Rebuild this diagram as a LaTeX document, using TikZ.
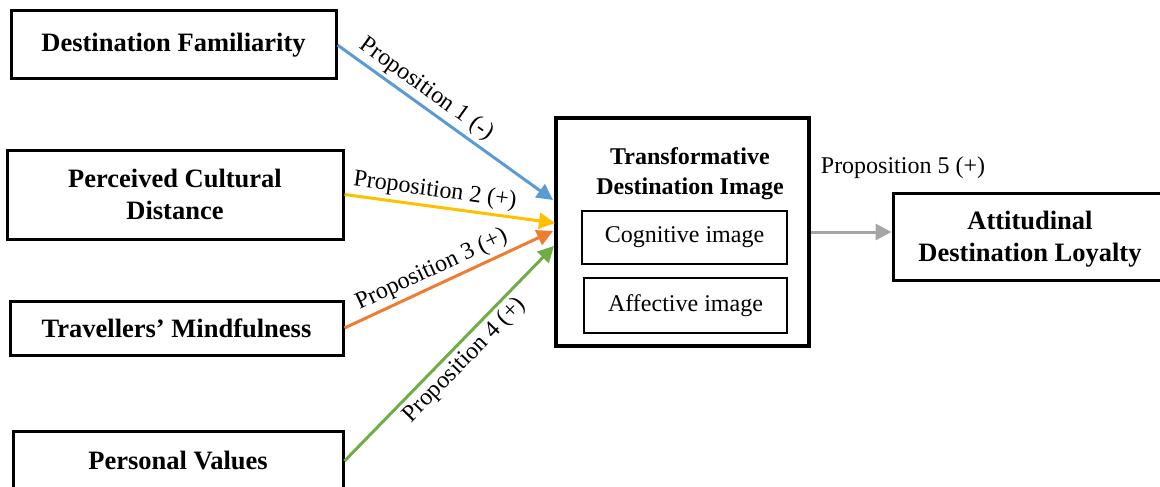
\documentclass[tikz,border=0pt]{standalone}
\usepackage{fontspec}
\setmainfont{Liberation Serif}
\usetikzlibrary{arrows.meta}
\definecolor{pblue}{HTML}{5B9BD5}
\definecolor{pyellow}{HTML}{FFC000}
\definecolor{porange}{HTML}{ED7D31}
\definecolor{pgreen}{HTML}{70AD47}
\definecolor{pgray}{HTML}{A5A5A5}
\tikzset{
  outerbox/.style={draw=black, line width=3pt, rectangle, inner sep=0pt, align=center,
    font=\fontsize{26.5}{32}\selectfont\bfseries},
  mainbox/.style={draw=black, line width=3.5pt, rectangle, inner sep=0pt},
  innerbox/.style={draw=black, line width=2.2pt, rectangle, inner sep=0pt,
    font=\fontsize{24}{28}\selectfont},
  titletext/.style={align=center, inner sep=0pt, font=\fontsize{24}{30}\selectfont\bfseries},
  proplabel/.style={font=\fontsize{24}{28}\selectfont, inner sep=3.5pt},
  proparrow/.style={line width=3pt, -{Triangle[length=16pt,width=16pt]}}
}
\begin{document}
\begin{tikzpicture}[x=1pt,y=-1pt]
\useasboundingbox (0,0) rectangle (1160,487);
\begin{scope}
\clip (0,0) rectangle (1160,487);
% left boxes
\node[outerbox, minimum width=325pt, minimum height=68pt] (b1) at (173.5,45) {Destination Familiarity};
\node[outerbox, minimum width=336pt, minimum height=89pt] (b2) at (175,194.5) {Perceived Cultural\\Distance};
\node[outerbox, minimum width=333pt, minimum height=54pt] (b3) at (176.5,328) {Travellers’ Mindfulness};
\node[outerbox, minimum width=330pt, minimum height=62pt, text depth=0pt] (b4) at (178,462) {};
\node[font=\fontsize{26.5}{32}\selectfont\bfseries, inner sep=0pt] (b4t) at (178,461) {Personal Values};
% central box
\node[mainbox, minimum width=253pt, minimum height=228pt] (c) at (682.5,232) {};
\node[titletext] (ct) at (690,174) {Transformative\\Destination Image};
\node[innerbox, minimum width=205pt, minimum height=53pt] (cog) at (684.5,237.5) {Cognitive image};
\node[innerbox, minimum width=203pt, minimum height=55pt] (aff) at (685.5,305.5) {Affective image};
% right box
\node[outerbox, minimum width=277pt, minimum height=87pt] (att) at (1031.5,236.5) {};
\node[align=center, inner sep=0pt, font=\fontsize{26.5}{32}\selectfont\bfseries] (attt) at (1030,239) {Attitudinal\\Destination Loyalty};
% arrow tips
\coordinate (t1) at (553,200);
\coordinate (t2) at (555,223);
\coordinate (t3) at (553,231);
\coordinate (t4) at (554,246);
% arrows
\draw[proparrow, pblue] (b1.east) -- node[proplabel, sloped, above, pos=0.37, text=black] {Proposition 1 (-)} (t1);
\draw[proparrow, pyellow] (b2.east) -- node[proplabel, sloped, above, pos=0.42, text=black] {Proposition 2 (+)} (t2);
\draw[proparrow, porange] (b3.east) -- node[proplabel, sloped, above, pos=0.45, text=black] {Proposition 3 (+)} (t3);
\draw[proparrow, pgreen] (b4.east |- b4t) -- node[proplabel, sloped, below, pos=0.52, text=black] {Proposition 4 (+)} (t4);
\draw[proparrow, pgray] (c.east) -- (c.east -| att.west);
\node[proplabel, inner sep=0pt] (p5) at (903,168) {Proposition 5 (+)};
\end{scope}
\end{tikzpicture}
\end{document}
